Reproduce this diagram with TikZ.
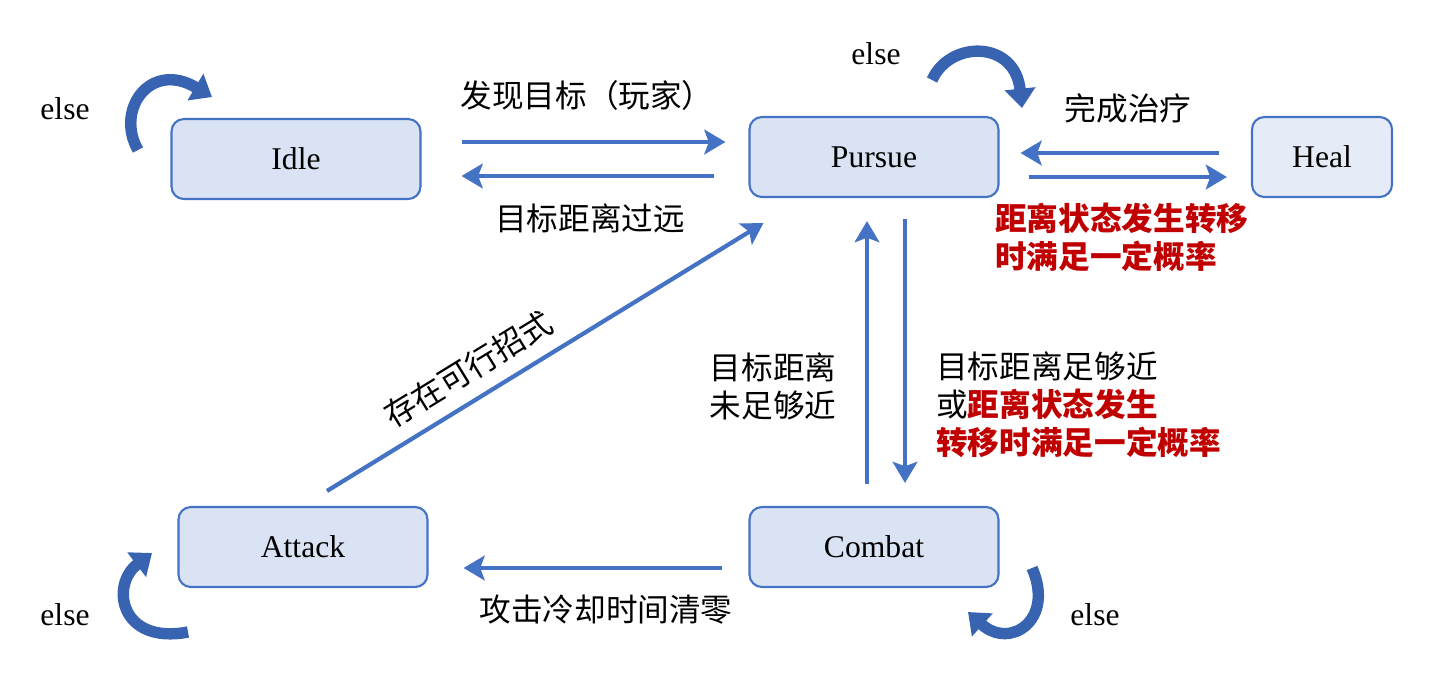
\documentclass[tikz,border=0pt]{standalone}
\usepackage{fontspec}
\setmainfont{Liberation Serif}
\newfontfamily\cjk{Noto Sans CJK SC}
\usetikzlibrary{calc,arrows.meta}

\definecolor{boxline}{HTML}{4472C4}
\definecolor{boxfill}{HTML}{DAE3F3}
\definecolor{healfill}{HTML}{E6ECF7}
\definecolor{loopblue}{HTML}{3763B0}
\definecolor{warnred}{HTML}{C00000}

\tikzset{
  state/.style={draw=boxline, fill=boxfill, line width=1.2pt, rounded corners=7pt,
    minimum width=4.98cm, minimum height=1.6cm, font=\fontsize{18}{22}\selectfont},
  flow/.style={draw=boxline, line width=2.4pt, -{Stealth[length=12pt,width=14pt,inset=2.5pt]}},
  selfloop/.style={draw=loopblue, line width=6.5pt, -{Triangle[length=11pt,width=17pt]}},
  cond/.style={font=\cjk\fontsize{18}{21.5}\selectfont, inner sep=0pt},
  elsetxt/.style={font=\fontsize{18}{22}\selectfont, inner sep=0pt}
}
\newcommand{\warn}[1]{\textcolor{warnred}{\bfseries #1}}

\begin{document}
\begin{tikzpicture}[x=0.02cm, y=-0.02cm]
		\useasboundingbox (0,0) rectangle (1443,673);
		
		%states
		\node[state] (idle) at (296,159) {Idle};
		\node[state] (pursue) at (874,157) {Pursue};
		\node[state, fill=healfill, minimum width=2.8cm] (heal) at (1322,157) {Heal};
		\node[state] (attack) at (303,547) {Attack};
		\node[state] (combat) at (874,547) {Combat};
		
		%transitions
		\draw[flow] ($(idle.east)+(40,-17)$) -- ($(pursue.west)+(-23,-15)$);
		\draw[flow] ($(pursue.west)+(-34,19)$) -- ($(idle.east)+(40,17)$);
		\draw[flow] ($(heal.west)+(-32,-4)$) -- ($(pursue.east)+(21,-4)$);
		\draw[flow] ($(pursue.east)+(29,20)$) -- ($(heal.west)+(-24,20)$);
		\draw[flow] ($(combat.north)+(-7,-22)$) -- ($(pursue.south)+(-7,23)$);
		\draw[flow] ($(pursue.south)+(31,21)$) -- ($(combat.north)+(31,-23)$);
		\draw[flow] ($(attack.north)+(24,-15)$) -- ($(pursue.south west)+(15,25)$)
			node[cond, pos=0.36, sloped, above=7.5pt] (movelbl) {存在可行招式};
		\draw[flow] ($(combat.west)+(-26,21)$) -- ($(attack.east)+(35,21)$);
		
		%self loops
		\draw[selfloop] (138,150) .. controls (115,110) and (150,60) .. (212,97);
		\draw[selfloop] (932,80) .. controls (950,40) and (1015,40) .. (1022,108);
		\draw[selfloop] (188,632) .. controls (120,645) and (110,585) .. (152,553);
		\draw[selfloop] (1032,568) .. controls (1055,620) and (1010,650) .. (968,612);
		
		%labels
		\node[cond] (findlbl) at (587,95) {发现目标（玩家）};
		\node[cond] (farlbl) at (590,218) {目标距离过远};
		\node[cond] (heallbl) at (1128,108) {完成治疗};
		\node[cond, anchor=west, align=left] (healrisk) at (995,237)
			{\warn{距离状态发生转移}\\\warn{时满足一定概率}};
		\node[cond, align=center] (notnear) at (773,386) {目标距离\\未足够近};
		\node[cond, anchor=west, align=left] (nearlbl) at (936,405)
			{目标距离足够近\\或\warn{距离状态发生}\\\warn{转移时满足一定概率}};
		\node[cond] (cdlbl) at (606,610) {攻击冷却时间清零};
		
		%else
		\node[elsetxt] (idleelse) at (65,109) {else};
		\node[elsetxt] (pursueelse) at (876,54) {else};
		\node[elsetxt] (attackelse) at (65,615) {else};
		\node[elsetxt] (combatelse) at (1095,615) {else};
\end{tikzpicture}
\end{document}
